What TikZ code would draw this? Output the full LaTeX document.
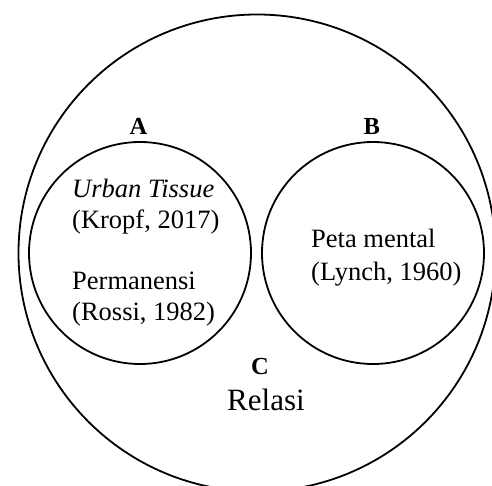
\documentclass[tikz,border=0pt]{standalone}
\usepackage{fontspec}
\setmainfont{Liberation Serif}
\begin{document}
\begin{tikzpicture}[x=1pt,y=-1pt,
  ring/.style={draw, circle, line width=1.8pt, inner sep=0pt},
  txt/.style={font=\fontsize{26.5}{30}\selectfont, inner sep=0pt, anchor=base west},
  lab/.style={font=\fontsize{24.5}{28}\selectfont\bfseries, inner sep=0pt, anchor=base},
  big/.style={font=\fontsize{31}{35}\selectfont, inner sep=0pt, anchor=base west}]
\useasboundingbox (0,0) rectangle (492,485);
\clip (0,0) rectangle (492,485);
\node[ring, minimum size=477pt] (C) at (257,253) {};
\node[ring, minimum size=222pt] (A) at (140,253) {};
\node[ring, minimum size=222pt] (B) at (373,253) {};
\node[lab] (la) at (138.5,134.3) {A};
\node[lab] (lb) at (371.7,134.3) {B};
\node[lab] (lc) at (260,374.3) {C};
\node[txt] (a1) at (72,197.7) {\textit{Urban Tissue}};
\node[txt] (a2) at (72,228.3) {(Kropf, 2017)};
\node[txt] (a3) at (72,289.3) {Permanensi};
\node[txt] (a4) at (72,320) {(Rossi, 1982)};
\node[txt] (b1) at (311,247.7) {Peta mental};
\node[txt] (b2) at (311,280) {(Lynch, 1960)};
\node[big] (rel) at (227,410) {Relasi};
\end{tikzpicture}
\end{document}
